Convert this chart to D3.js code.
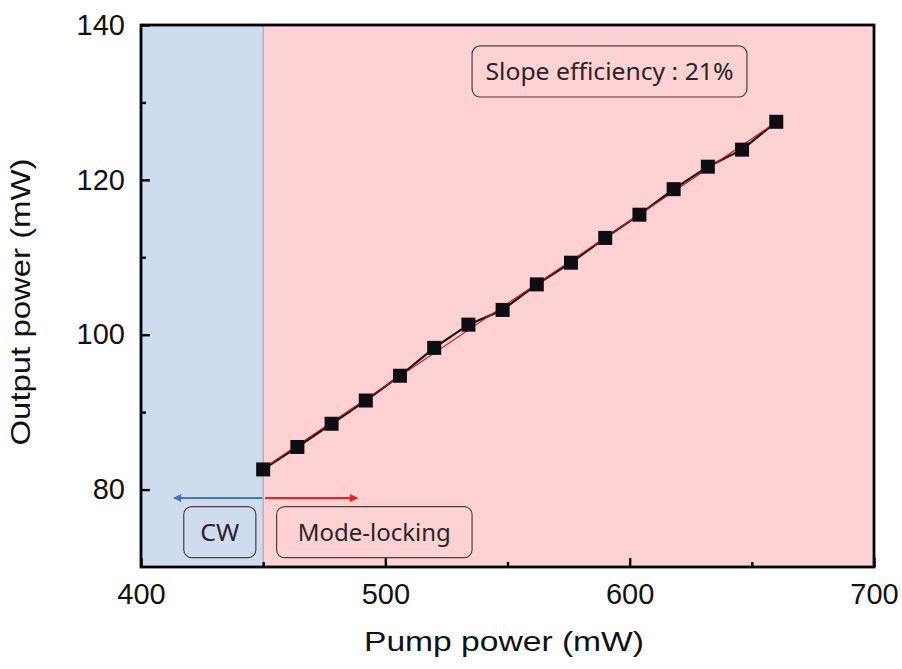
<!DOCTYPE html>
<html>
<head>
<meta charset="utf-8">
<script src="https://cdn.jsdelivr.net/npm/d3@7"></script>
<style>
  html, body { margin: 0; padding: 0; background: #ffffff; }
  svg { display: block; }
</style>
</head>
<body>
<svg id="chart" width="902" height="669"></svg>
<script>
// Pump power (mW) and measured output power (mW)
const pumpPower = [450, 464, 478, 492, 506, 520, 534, 548, 562, 576, 590, 604, 618, 632, 646, 660];
const outputPower = [82.6, 85.5, 88.5, 91.5, 94.7, 98.3, 101.3, 103.2, 106.5, 109.3, 112.5, 115.5, 118.8, 121.7, 123.9, 127.5];

const xTicks = [400, 500, 600, 700];
const xMinorTicks = [450, 550, 650];
const yTicks = [80, 100, 120, 140];
const yMinorTicks = [90, 110, 130];

const threshold = 450;          // CW / mode-locking boundary
const slopeLabel = "Slope efficiency : 21%";

const svg = d3.select("#chart");
const m = { left: 141, right: 874, top: 25, bottom: 567 };

const x = d3.scaleLinear().domain([400, 700]).range([m.left, m.right]);
const y = d3.scaleLinear().domain([70, 140]).range([m.bottom, m.top]);

const labelFont = "Arial, 'Liberation Sans', sans-serif";
const boxFont = "'Noto Sans', 'Open Sans', sans-serif";

// Regime backgrounds
svg.append("rect")
  .attr("x", x(400)).attr("y", y(140))
  .attr("width", x(threshold) - x(400)).attr("height", y(70) - y(140))
  .attr("fill", "#cfdcee");
svg.append("rect")
  .attr("x", x(threshold)).attr("y", y(140))
  .attr("width", x(700) - x(threshold)).attr("height", y(70) - y(140))
  .attr("fill", "#fed2d2");
svg.append("line")
  .attr("x1", x(threshold)).attr("x2", x(threshold))
  .attr("y1", y(140)).attr("y2", y(70))
  .attr("stroke", "#9aa6c8").attr("stroke-width", 1.2);

// Linear fit
const n = pumpPower.length;
const mx = d3.mean(pumpPower), my = d3.mean(outputPower);
const slope = d3.sum(pumpPower.map((p, i) => (p - mx) * (outputPower[i] - my))) /
              d3.sum(pumpPower.map(p => (p - mx) * (p - mx)));
const icpt = my - slope * mx;

// Measured data line
const line = d3.line().x((d, i) => x(pumpPower[i])).y(d => y(d));
svg.append("path")
  .datum(outputPower)
  .attr("d", line)
  .attr("fill", "none")
  .attr("stroke", "#1a0c0e")
  .attr("stroke-width", 2.2);

svg.append("line")
  .attr("x1", x(pumpPower[0])).attr("y1", y(icpt + slope * pumpPower[0]))
  .attr("x2", x(pumpPower[n - 1])).attr("y2", y(icpt + slope * pumpPower[n - 1]))
  .attr("stroke", "#c8102e").attr("stroke-width", 1.1);

// Square markers
const sz = 14;
svg.selectAll("rect.pt")
  .data(outputPower)
  .enter().append("rect")
  .attr("class", "pt")
  .attr("x", (d, i) => x(pumpPower[i]) - sz / 2)
  .attr("y", d => y(d) - sz / 2)
  .attr("width", sz).attr("height", sz)
  .attr("fill", "#0d0d12");

// Arrows for each regime
const defs = svg.append("defs");
function marker(id, color) {
  defs.append("marker")
    .attr("id", id)
    .attr("viewBox", "0 0 10 10")
    .attr("refX", 9).attr("refY", 5)
    .attr("markerWidth", 4.5).attr("markerHeight", 4)
    .attr("orient", "auto")
    .append("path").attr("d", "M0,0 L10,5 L0,10 Z").attr("fill", color);
}
marker("arrBlue", "#4472c4");
marker("arrRed", "#ff1a1a");

const arrowY = 78.9;
svg.append("line")
  .attr("x1", x(threshold) - 1).attr("x2", x(413.5))
  .attr("y1", y(arrowY)).attr("y2", y(arrowY))
  .attr("stroke", "#4472c4").attr("stroke-width", 2)
  .attr("marker-end", "url(#arrBlue)");
svg.append("line")
  .attr("x1", x(threshold) + 2).attr("x2", x(488.5))
  .attr("y1", y(arrowY)).attr("y2", y(arrowY))
  .attr("stroke", "#ff1a1a").attr("stroke-width", 2)
  .attr("marker-end", "url(#arrRed)");

// Labelled boxes
function labelBox(x0, x1, y0, y1, text, width) {
  const g = svg.append("g");
  g.append("rect")
    .attr("x", x(x0)).attr("y", y(y0))
    .attr("width", x(x1) - x(x0)).attr("height", y(y1) - y(y0))
    .attr("rx", 8).attr("ry", 8)
    .attr("fill", "none")
    .attr("stroke", "#4a3d44").attr("stroke-width", 1.2);
  g.append("text")
    .attr("x", (x(x0) + x(x1)) / 2)
    .attr("y", (y(y0) + y(y1)) / 2)
    .attr("dy", "0.36em")
    .attr("text-anchor", "middle")
    .attr("font-family", boxFont)
    .attr("font-size", 23.5)
    .attr("fill", "#2b2327")
    .attr("textLength", width).attr("lengthAdjust", "spacingAndGlyphs")
    .text(text);
}
labelBox(417.5, 447, 77.8, 71.2, "CW", 39);
labelBox(455.5, 535.5, 77.8, 71.2, "Mode-locking", 153);
labelBox(535.5, 648, 137.3, 130.7, slopeLabel, 248);

// Axes frame
svg.append("rect")
  .attr("x", m.left).attr("y", m.top)
  .attr("width", m.right - m.left).attr("height", m.bottom - m.top)
  .attr("fill", "none").attr("stroke", "#000").attr("stroke-width", 2.8);

// Inward ticks
const xAxis = d3.axisBottom(x).tickValues(xTicks).tickSize(-9).tickPadding(16).tickFormat(d3.format("d"));
const gx = svg.append("g").attr("transform", `translate(0,${m.bottom})`).call(xAxis);
gx.select(".domain").remove();
gx.selectAll(".tick line").attr("stroke-width", 2.4);
gx.selectAll(".tick text").attr("font-family", labelFont).attr("font-size", 29).attr("fill", "#111");
const gxm = svg.append("g").attr("transform", `translate(0,${m.bottom})`)
  .call(d3.axisBottom(x).tickValues(xMinorTicks).tickSize(-5).tickFormat(""));
gxm.select(".domain").remove();
gxm.selectAll(".tick line").attr("stroke-width", 2.4);

const yAxis = d3.axisLeft(y).tickValues(yTicks).tickSize(-9).tickPadding(16).tickFormat(d3.format("d"));
const gy = svg.append("g").attr("transform", `translate(${m.left},0)`).call(yAxis);
gy.select(".domain").remove();
gy.selectAll(".tick line").attr("stroke-width", 2.4);
gy.selectAll(".tick text").attr("font-family", labelFont).attr("font-size", 29).attr("fill", "#111");
const gym = svg.append("g").attr("transform", `translate(${m.left},0)`)
  .call(d3.axisLeft(y).tickValues(yMinorTicks).tickSize(-5).tickFormat(""));
gym.select(".domain").remove();
gym.selectAll(".tick line").attr("stroke-width", 2.4);

// Axis titles
svg.append("text")
  .attr("x", 504).attr("y", 651)
  .attr("text-anchor", "middle")
  .attr("font-family", labelFont).attr("font-size", 28).attr("fill", "#111")
  .attr("textLength", 280).attr("lengthAdjust", "spacingAndGlyphs")
  .text("Pump power (mW)");
svg.append("text")
  .attr("transform", "translate(30,302) rotate(-90)")
  .attr("text-anchor", "middle")
  .attr("font-family", labelFont).attr("font-size", 28).attr("fill", "#111")
  .attr("textLength", 287).attr("lengthAdjust", "spacingAndGlyphs")
  .text("Output power (mW)");
</script>
</body>
</html>
